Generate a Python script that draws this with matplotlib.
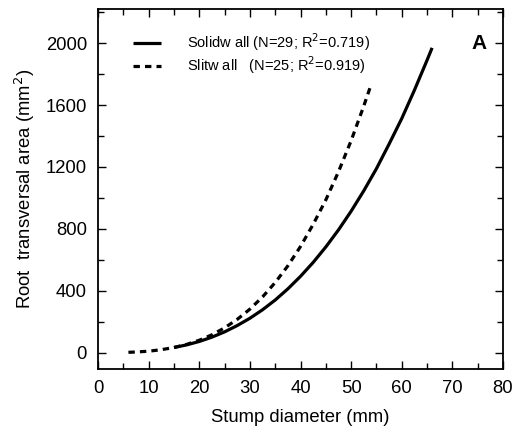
import matplotlib
matplotlib.use("Agg")
import matplotlib.pyplot as plt
from matplotlib.ticker import MultipleLocator

plt.rcParams['font.family'] = ['Liberation Sans', 'DejaVu Sans']

# values
solid_x = [15, 17.5, 20, 22.5, 25, 27.5, 30, 32.5, 35, 37.5, 40, 42.5,
           45, 47.5, 50, 52.5, 55, 57.5, 60, 62.5, 65, 66]
solid_y = [33, 50, 72, 100, 134, 175, 222, 277, 340, 412, 493, 583,
           683, 793, 914, 1046, 1189, 1348, 1513, 1696, 1890, 1970]

slit_x = [6, 7.5, 10, 12.5, 15, 17.5, 20, 22.5, 25, 27.5, 30, 32.5,
          35, 37.5, 40, 42.5, 45, 47.5, 50, 52.5, 53.8]
slit_y = [2, 4, 9, 19, 33, 53, 80, 115, 160, 215, 281, 360,
          453, 561, 686, 829, 987, 1169, 1370, 1594, 1718]

solid_label = 'Solidw all (N=29; R$^2$=0.719)'
slit_label = 'Slitw all   (N=25; R$^2$=0.919)'

fig = plt.figure(figsize=(5.3, 4.36), dpi=100)
ax = fig.add_axes([0.185, 0.154, 0.764, 0.825])

ax.plot(solid_x, solid_y, color='black', lw=2.3, label=solid_label,
        solid_capstyle='butt')
ax.plot(slit_x, slit_y, color='black', lw=2.3, ls=(0, (2, 1.6)),
        label=slit_label, dash_capstyle='butt')

ax.set_xlim(0, 80)
ax.set_ylim(-105, 2220)
ax.xaxis.set_major_locator(MultipleLocator(10))
ax.xaxis.set_minor_locator(MultipleLocator(5))
ax.yaxis.set_major_locator(MultipleLocator(400))
ax.yaxis.set_minor_locator(MultipleLocator(200))
ax.tick_params(which='both', direction='in', top=True, right=True,
               width=1, labelsize=13.3)
ax.tick_params(which='major', length=6, pad=8)
ax.tick_params(which='minor', length=4)
for s in ax.spines.values():
    s.set_linewidth(1.3)

ax.set_xlabel('Stump diameter (mm)', fontsize=13.3, labelpad=9)
ax.set_ylabel('Root  transversal area (mm$^2$)', fontsize=13.3, labelpad=6)

ax.legend(loc='upper left', bbox_to_anchor=(0.055, 0.975), frameon=False,
          fontsize=10.5, handlelength=1.9, handletextpad=1.75, labelspacing=0.1)
ax.text(0.94, 0.905, 'A', transform=ax.transAxes, ha='center', va='center',
        fontsize=15, fontweight='bold')

fig.savefig('out.png', dpi=100)
